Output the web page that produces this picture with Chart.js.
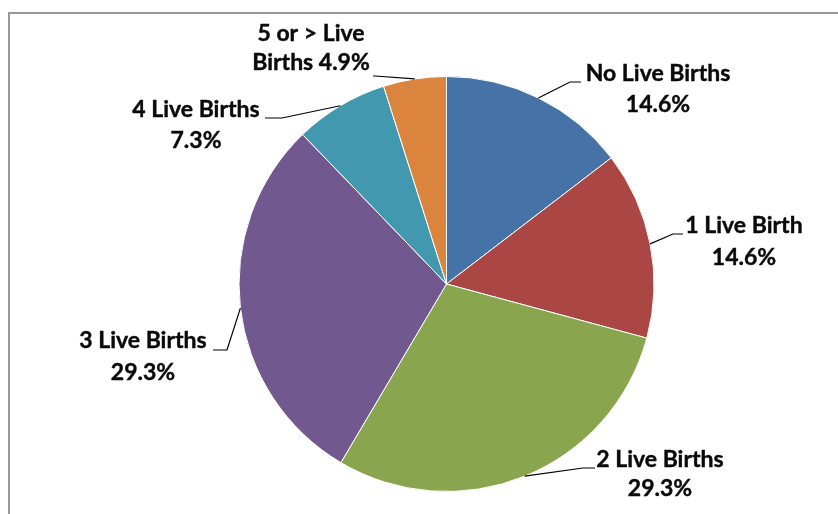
<!DOCTYPE html>
<html>
<head>
<meta charset="utf-8">
<script src="https://cdn.jsdelivr.net/npm/chart.js@4.4.0/dist/chart.umd.min.js"></script>
<style>
html,body{margin:0;padding:0;background:#fff;overflow:hidden;}
#wrap{position:relative;width:838px;height:514px;}
#frame{position:absolute;left:8px;top:12px;width:840px;height:520px;border-top:2px solid #999;border-left:2px solid #999;box-sizing:border-box;}
canvas{position:absolute;left:0;top:0;}
</style>
</head>
<body>
<div id="wrap">
<div id="frame"></div>
<canvas id="c" width="838" height="514"></canvas>
</div>
<script>
// Data
const categories = ["No Live Births", "1 Live Birth", "2 Live Births", "3 Live Births", "4 Live Births", "5 or > Live Births"];
const percents = [14.6, 14.6, 29.3, 29.3, 7.3, 4.9];
const labelLines = [
  ["No Live Births", "14.6%"],
  ["1 Live Birth", "14.6%"],
  ["2 Live Births", "29.3%"],
  ["3 Live Births", "29.3%"],
  ["4 Live Births", "7.3%"],
  ["5 or > Live", "Births 4.9%"]
];
const colors = ["#4572A7", "#AA4643", "#89A54E", "#71588F", "#4198AF", "#DB843D"];

// Label layout (text block centre x, first line middle y, elbow point, leader end point)
const labelLayout = [
  {cx: 658, y: 74, lh: 31, ex: 570, ey: 82, tx: 581, ty: 82},
  {cx: 744, y: 226, lh: 32, ex: 673, ey: 234, tx: 683, ty: 234},
  {cx: 660, y: 460, lh: 29, ex: 583, ey: 468, tx: 595, ty: 468},
  {cx: 143, y: 341, lh: 32, ex: 227, ey: 350, tx: 213, ty: 350},
  {cx: 196, y: 110, lh: 31, ex: 282, ey: 118, tx: 265, ty: 118},
  {cx: 311, y: 34, lh: 29, ex: 375, ey: 76, tx: 373, ty: 76}
];

const labelPlugin = {
  id: 'sliceLabels',
  afterDatasetsDraw(chart) {
    const ctx = chart.ctx;
    const meta = chart.getDatasetMeta(0);
    ctx.save();
    meta.data.forEach((arc, i) => {
      const p = arc.getProps(['x','y','startAngle','endAngle','outerRadius'], true);
      const mid = (p.startAngle + p.endAngle) / 2;
      const sx = p.x + Math.cos(mid) * p.outerRadius;
      const sy = p.y + Math.sin(mid) * p.outerRadius;
      const L = labelLayout[i];
      ctx.strokeStyle = '#000';
      ctx.lineWidth = 1.2;
      ctx.beginPath();
      ctx.moveTo(sx, sy);
      ctx.lineTo(L.ex, L.ey);
      ctx.lineTo(L.tx, L.ty);
      ctx.stroke();
      ctx.fillStyle = '#0a0a0a';
      ctx.strokeStyle = '#0a0a0a';
      ctx.lineWidth = 0.4;
      ctx.font = 'bold 23px Lato';
      ctx.textAlign = 'center';
      ctx.textBaseline = 'middle';
      labelLines[i].forEach((t, k) => {
        ctx.fillText(t, L.cx, L.y + k * L.lh);
        ctx.strokeText(t, L.cx, L.y + k * L.lh);
      });
    });
    ctx.restore();
  }
};

new Chart(document.getElementById('c'), {
  type: 'pie',
  data: {
    labels: categories,
    datasets: [{
      data: percents,
      backgroundColor: colors,
      borderColor: '#ffffff',
      borderWidth: 1
    }]
  },
  options: {
    responsive: false,
    animation: false,
    layout: {padding: {left: 238, right: 183, top: 76, bottom: 22}},
    plugins: {legend: {display: false}, tooltip: {enabled: false}}
  },
  plugins: [labelPlugin]
});
</script>
</body>
</html>
